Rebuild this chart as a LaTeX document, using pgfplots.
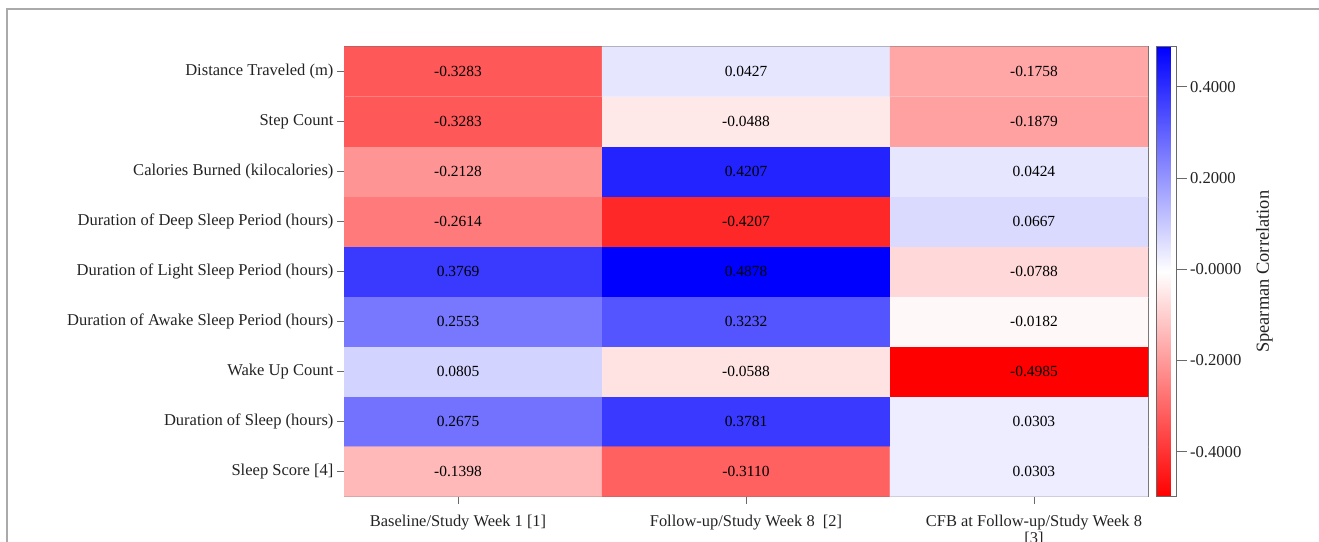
\documentclass[border=0pt]{standalone}
\usepackage{fontspec}
\setmainfont{Liberation Serif}
\usepackage{pgfplots}
\usepackage{pgfplotstable}
\pgfplotsset{compat=1.18}
\pgfplotstableread{
x y c
0 0 -0.3283
1 0 0.0427
2 0 -0.1758
0 1 -0.3283
1 1 -0.0488
2 1 -0.1879
0 2 -0.2128
1 2 0.4207
2 2 0.0424
0 3 -0.2614
1 3 -0.4207
2 3 0.0667
0 4 0.3769
1 4 0.4878
2 4 -0.0788
0 5 0.2553
1 5 0.3232
2 5 -0.0182
0 6 0.0805
1 6 -0.0588
2 6 -0.4985
0 7 0.2675
1 7 0.3781
2 7 0.0303
0 8 -0.1398
1 8 -0.3110
2 8 0.0303
}\datatable
\definecolor{framegray}{RGB}{170,170,170}
\definecolor{axgray}{RGB}{105,105,105}
\definecolor{txt}{RGB}{35,35,35}
\begin{document}
\begin{tikzpicture}
\useasboundingbox (0,0) rectangle (1319bp,-542bp);
\draw[framegray, line width=1.2bp] (7bp,-542bp) -- (7bp,-9bp) -- (1319bp,-9bp);
\begin{axis}[
  at={(344bp,-496.7bp)}, anchor=south west,
  scale only axis, width=804bp, height=450bp,
  xmin=-0.396, xmax=2.396,
  ymin=-0.5, ymax=8.5, y dir=reverse,
  xtick={0,1,2},
  xticklabels={Baseline/Study Week 1 [1], Follow-up/Study Week 8\ \ [2], {CFB at Follow-up/Study Week 8\\{}[3]}},
  xticklabel style={align=center, font=\fontsize{16.5}{16.5}\selectfont, text=txt, yshift=-8bp},
  ytick={0,...,8},
  yticklabels={Distance Traveled (m), Step Count, Calories Burned (kilocalories), Duration of Deep Sleep Period (hours), Duration of Light Sleep Period (hours), Duration of Awake Sleep Period (hours), Wake Up Count, Duration of Sleep (hours), Sleep Score [4]},
  yticklabel style={font=\fontsize{16.6}{18}\selectfont, text=txt},
  xtick pos=bottom, ytick pos=left,
  tick align=outside, major tick length=7bp,
  tick style={axgray, line width=0.8bp},
  axis line style={axgray, line width=0.9bp},
  colormap={rwb}{rgb255=(255,0,0) rgb255=(255,255,255) rgb255=(0,0,255)},
  point meta min=-0.4985, point meta max=0.4878,
  colorbar,
  colorbar style={
    at={(parent axis.north east)}, anchor=north west, xshift=0bp,
    scale only axis, width=20bp, height=450bp,
    ytick={-0.4,-0.2,0,0.2,0.4},
    yticklabels={-0.4000,-0.2000,-0.0000,0.2000,0.4000},
    yticklabel style={font=\fontsize{16.7}{18}\selectfont, text=txt},
    ylabel={Spearman Correlation},
    ylabel style={font=\fontsize{18.5}{20}\selectfont, text=txt, yshift=-8bp},
    yticklabel pos=right, ytick pos=right,
    tick align=outside, major tick length=10bp,
    tick style={axgray, line width=0.8bp},
    axis line style={axgray, line width=0.9bp},
  },
]
\addplot[matrix plot*, mesh/cols=3, mesh/rows=9, point meta=explicit] table[x=x, y=y, meta=c] {\datatable};
\addplot[only marks, mark=none, point meta=explicit,
  nodes near coords={\pgfmathprintnumber[fixed, precision=4, fixed zerofill, assume math mode=true]{\pgfplotspointmeta}},
  nodes near coords align=center,
  every node near coord/.append style={anchor=center, text=black, font=\fontsize{15.5}{16}\selectfont}]
  table[x=x, y=y, meta=c] {\datatable};
\end{axis}
\end{tikzpicture}
\end{document}
